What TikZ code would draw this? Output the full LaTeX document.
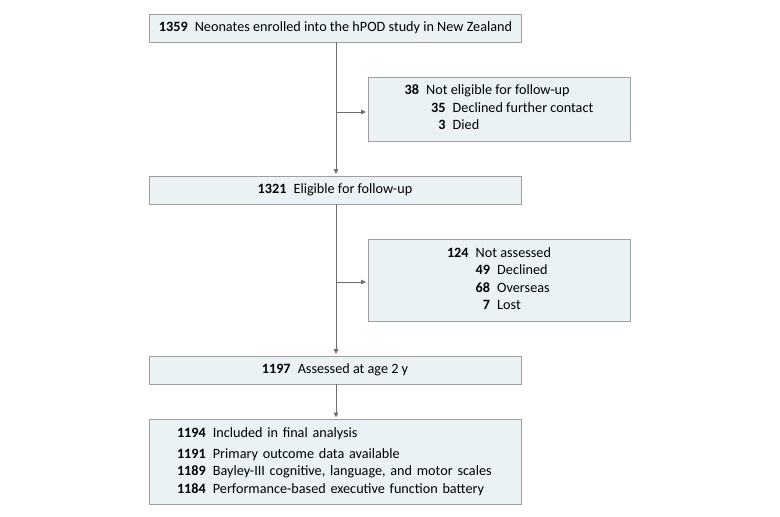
\documentclass[tikz,border=0pt]{standalone}
\usepackage{fontspec}
\setmainfont{Carlito}
\usetikzlibrary{arrows.meta,positioning}
\definecolor{boxfill}{HTML}{EAF2F5}
\definecolor{boxline}{HTML}{A0A0A0}
\definecolor{flowline}{HTML}{6E6E6E}
\begin{document}
\begin{tikzpicture}[
    x=1bp,y=-1bp,
    font=\fontsize{14.2bp}{17.5bp}\selectfont,
    box/.style={draw=boxline,fill=boxfill,line width=.9bp,inner sep=0pt},
    mainbox/.style={box,minimum width=372bp,minimum height=28bp},
    sidebox/.style={box,minimum width=262bp,align=center},
    flow/.style={-{Triangle[length=5bp,width=4.5bp]},line width=.7bp,flowline,shorten >=1.5bp}
  ]
    \useasboundingbox (0,0) rectangle (780,517);
    \node[mainbox] (enrolled) at (335.5,28) {\textbf{1359}\enspace Neonates enrolled into the hPOD study in New Zealand};
    \node[sidebox,minimum height=64bp] (notelig) at (499,109) {%
      \begin{tabular}{@{}r@{\enspace}r@{\enspace}l@{}}
        \textbf{38} & \multicolumn{2}{@{}l@{}}{Not eligible for follow-up}\\
        & \hspace{5bp}\textbf{35} & Declined further contact\\
        & \textbf{3} & Died
      \end{tabular}};
    \node[mainbox] (eligible) at (335,190) {\textbf{1321}\enspace Eligible for follow-up};
    \node[sidebox,minimum height=82bp] (notass) at (499,280) {%
      \begin{tabular}{@{}r@{\enspace}r@{\enspace}l@{}}
        \textbf{124} & \multicolumn{2}{@{}l@{}}{Not assessed}\\
        & \textbf{49} & Declined\\
        & \textbf{68} & Overseas\\
        & \textbf{7} & Lost
      \end{tabular}};
    \node[mainbox] (assessed) at (335,370) {\textbf{1197}\enspace Assessed at age 2 y};
    \node[box,minimum width=372bp,minimum height=85bp,align=left,text width=316bp] (final) at (335,462) {%
      \begin{tabular}{@{}r@{\enspace}l@{}}
        \textbf{1194} & Included in final analysis\\[3bp]
        \textbf{1191} & Primary outcome data available\\
        \textbf{1189} & Bayley-III cognitive, language, and motor scales\\
        \textbf{1184} & Performance-based executive function battery
      \end{tabular}};
    \coordinate (b1) at (336,112);
    \coordinate (b2) at (336,282);
    \foreach \s/\t in {enrolled/eligible,eligible/assessed,assessed/final} {\draw[flow] (\s.south -| b1) -- (\t.north -| b1);}
    \foreach \s/\t in {b1/notelig,b2/notass} {\draw[flow] (\s) -- (\s -| \t.west);}
\end{tikzpicture}
\end{document}
